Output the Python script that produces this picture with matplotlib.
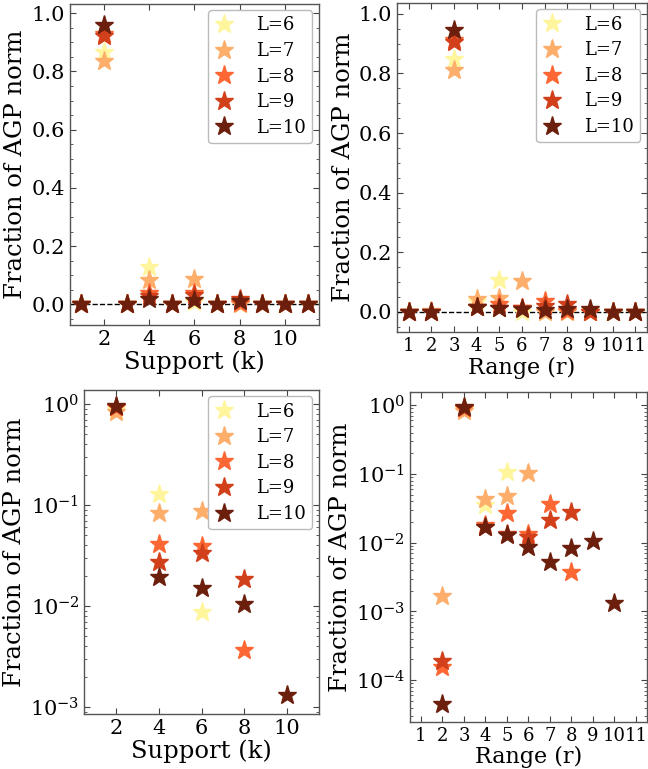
import numpy as np
import matplotlib
matplotlib.use("Agg")
import matplotlib.pyplot as plt
from matplotlib.ticker import AutoMinorLocator, LogLocator, NullFormatter

plt.rcParams['font.family'] = 'DejaVu Serif'
plt.rcParams['mathtext.fontset'] = 'dejavuserif'

# system sizes and their colours
sizes = [6, 7, 8, 9, 10]
colors = ["#fff59d", "#fdae6b", "#fd6733", "#d1401a", "#6b1f0c"]

# support k = 1..11
support = np.arange(1, 12)
frac_support = {
    6:  [0, 0.868, 0, 0.128, 0, 0.0087, 0, 0, 0, 0, 0],
    7:  [0, 0.834, 0, 0.083, 0, 0.0866, 0, 0, 0, 0, 0],
    8:  [0, 0.928, 0, 0.0406, 0, 0.039, 0, 0.0037, 0, 0, 0],
    9:  [0, 0.922, 0, 0.0272, 0, 0.0336, 0, 0.0183, 0, 0, 0],
    10: [0, 0.958, 0, 0.0195, 0, 0.0149, 0, 0.0104, 0, 0.0013, 0],
}

# range r = 1..11
rng = np.arange(1, 12)
frac_range = {
    6:  [0, 0, 0.849, 0.035, 0.107, 0, 0, 0, 0, 0, 0],
    7:  [0, 0.0017, 0.812, 0.0428, 0.0473, 0.1035, 0, 0, 0, 0, 0],
    8:  [0, 0.000158, 0.913, 0.0179, 0.0273, 0.0132, 0.037, 0.0037, 0, 0, 0],
    9:  [0, 0.000193, 0.905, 0.0172, 0.0135, 0.0121, 0.0211, 0.028, 0, 0, 0],
    10: [0, 0.000045, 0.946, 0.0169, 0.0131, 0.0087, 0.0052, 0.0084, 0.0106, 0.00134, 0],
}

fig = plt.figure(figsize=(6.48, 7.69), dpi=100)
ax_tl = fig.add_axes([0.108, 0.577, 0.384, 0.418])
ax_tr = fig.add_axes([0.613, 0.568, 0.385, 0.428])
ax_bl = fig.add_axes([0.130, 0.0715, 0.362, 0.4215])
ax_br = fig.add_axes([0.633, 0.061, 0.365, 0.429])


def style(ax, xsize=15):
    ax.tick_params(which='both', direction='in', top=True, right=True,
                   labelsize=15, color='#444444')
    ax.tick_params(axis='x', labelsize=xsize)
    ax.tick_params(which='major', length=4)
    ax.tick_params(which='minor', length=2)
    for s in ax.spines.values():
        s.set_color('#555555')
        s.set_linewidth(1.0)


def draw(ax, x, data, log=False, legend=True, xsize=15):
    for L, c in zip(sizes, colors):
        y = np.array(data[L], dtype=float)
        if log:
            y = np.where(y > 0, y, np.nan)
        ax.plot(x, y, linestyle='none', marker='*', markersize=14,
                color=c, markeredgecolor=c, label=f"L={L}", zorder=3)
    if not log:
        ax.axhline(0, color='black', linestyle='--', linewidth=1, zorder=2)
    if legend:
        ax.legend(loc='upper right', fontsize=13, handlelength=1.0,
                  handletextpad=1.3, labelspacing=0.42, borderpad=0.35,
                  borderaxespad=0.35, framealpha=1, edgecolor='#bbbbbb')
    ax.set_xlim(0.5, 11.5)
    ax.set_ylabel("Fraction of AGP norm", fontsize=17.5, labelpad=3)
    style(ax, xsize)


# top left: support, linear
draw(ax_tl, support, frac_support)
ax_tl.set_xticks([2, 4, 6, 8, 10])
ax_tl.set_ylim(-0.072, 1.032)
ax_tl.set_yticks([0.0, 0.2, 0.4, 0.6, 0.8, 1.0])
ax_tl.yaxis.set_minor_locator(AutoMinorLocator(4))
ax_tl.set_xlabel("Support (k)", fontsize=17.5, labelpad=1)

# top right: range, linear
draw(ax_tr, rng, frac_range, xsize=13)
ax_tr.set_xticks(rng)
ax_tr.set_ylim(-0.068, 1.036)
ax_tr.set_yticks([0.0, 0.2, 0.4, 0.6, 0.8, 1.0])
ax_tr.yaxis.set_minor_locator(AutoMinorLocator(4))
ax_tr.set_xlabel("Range (r)", fontsize=16, labelpad=1)

# bottom left: support, log
draw(ax_bl, support, frac_support, log=True)
ax_bl.set_yscale('log')
ax_bl.set_ylim(10 ** -3.07, 10 ** 0.139)
ax_bl.set_xticks([2, 4, 6, 8, 10])
ax_bl.yaxis.set_minor_locator(LogLocator(base=10, subs=np.arange(2, 10)))
ax_bl.yaxis.set_minor_formatter(NullFormatter())
ax_bl.set_xlabel("Support (k)", fontsize=17.5, labelpad=1)

# bottom right: range, log
draw(ax_br, rng, frac_range, log=True, legend=False, xsize=13)
ax_br.set_yscale('log')
ax_br.set_ylim(10 ** -4.61, 10 ** 0.19)
ax_br.set_xticks(rng)
ax_br.yaxis.set_minor_locator(LogLocator(base=10, subs=np.arange(2, 10)))
ax_br.yaxis.set_minor_formatter(NullFormatter())
ax_br.set_xlabel("Range (r)", fontsize=16, labelpad=1)

fig.savefig("out.png", dpi=100)
